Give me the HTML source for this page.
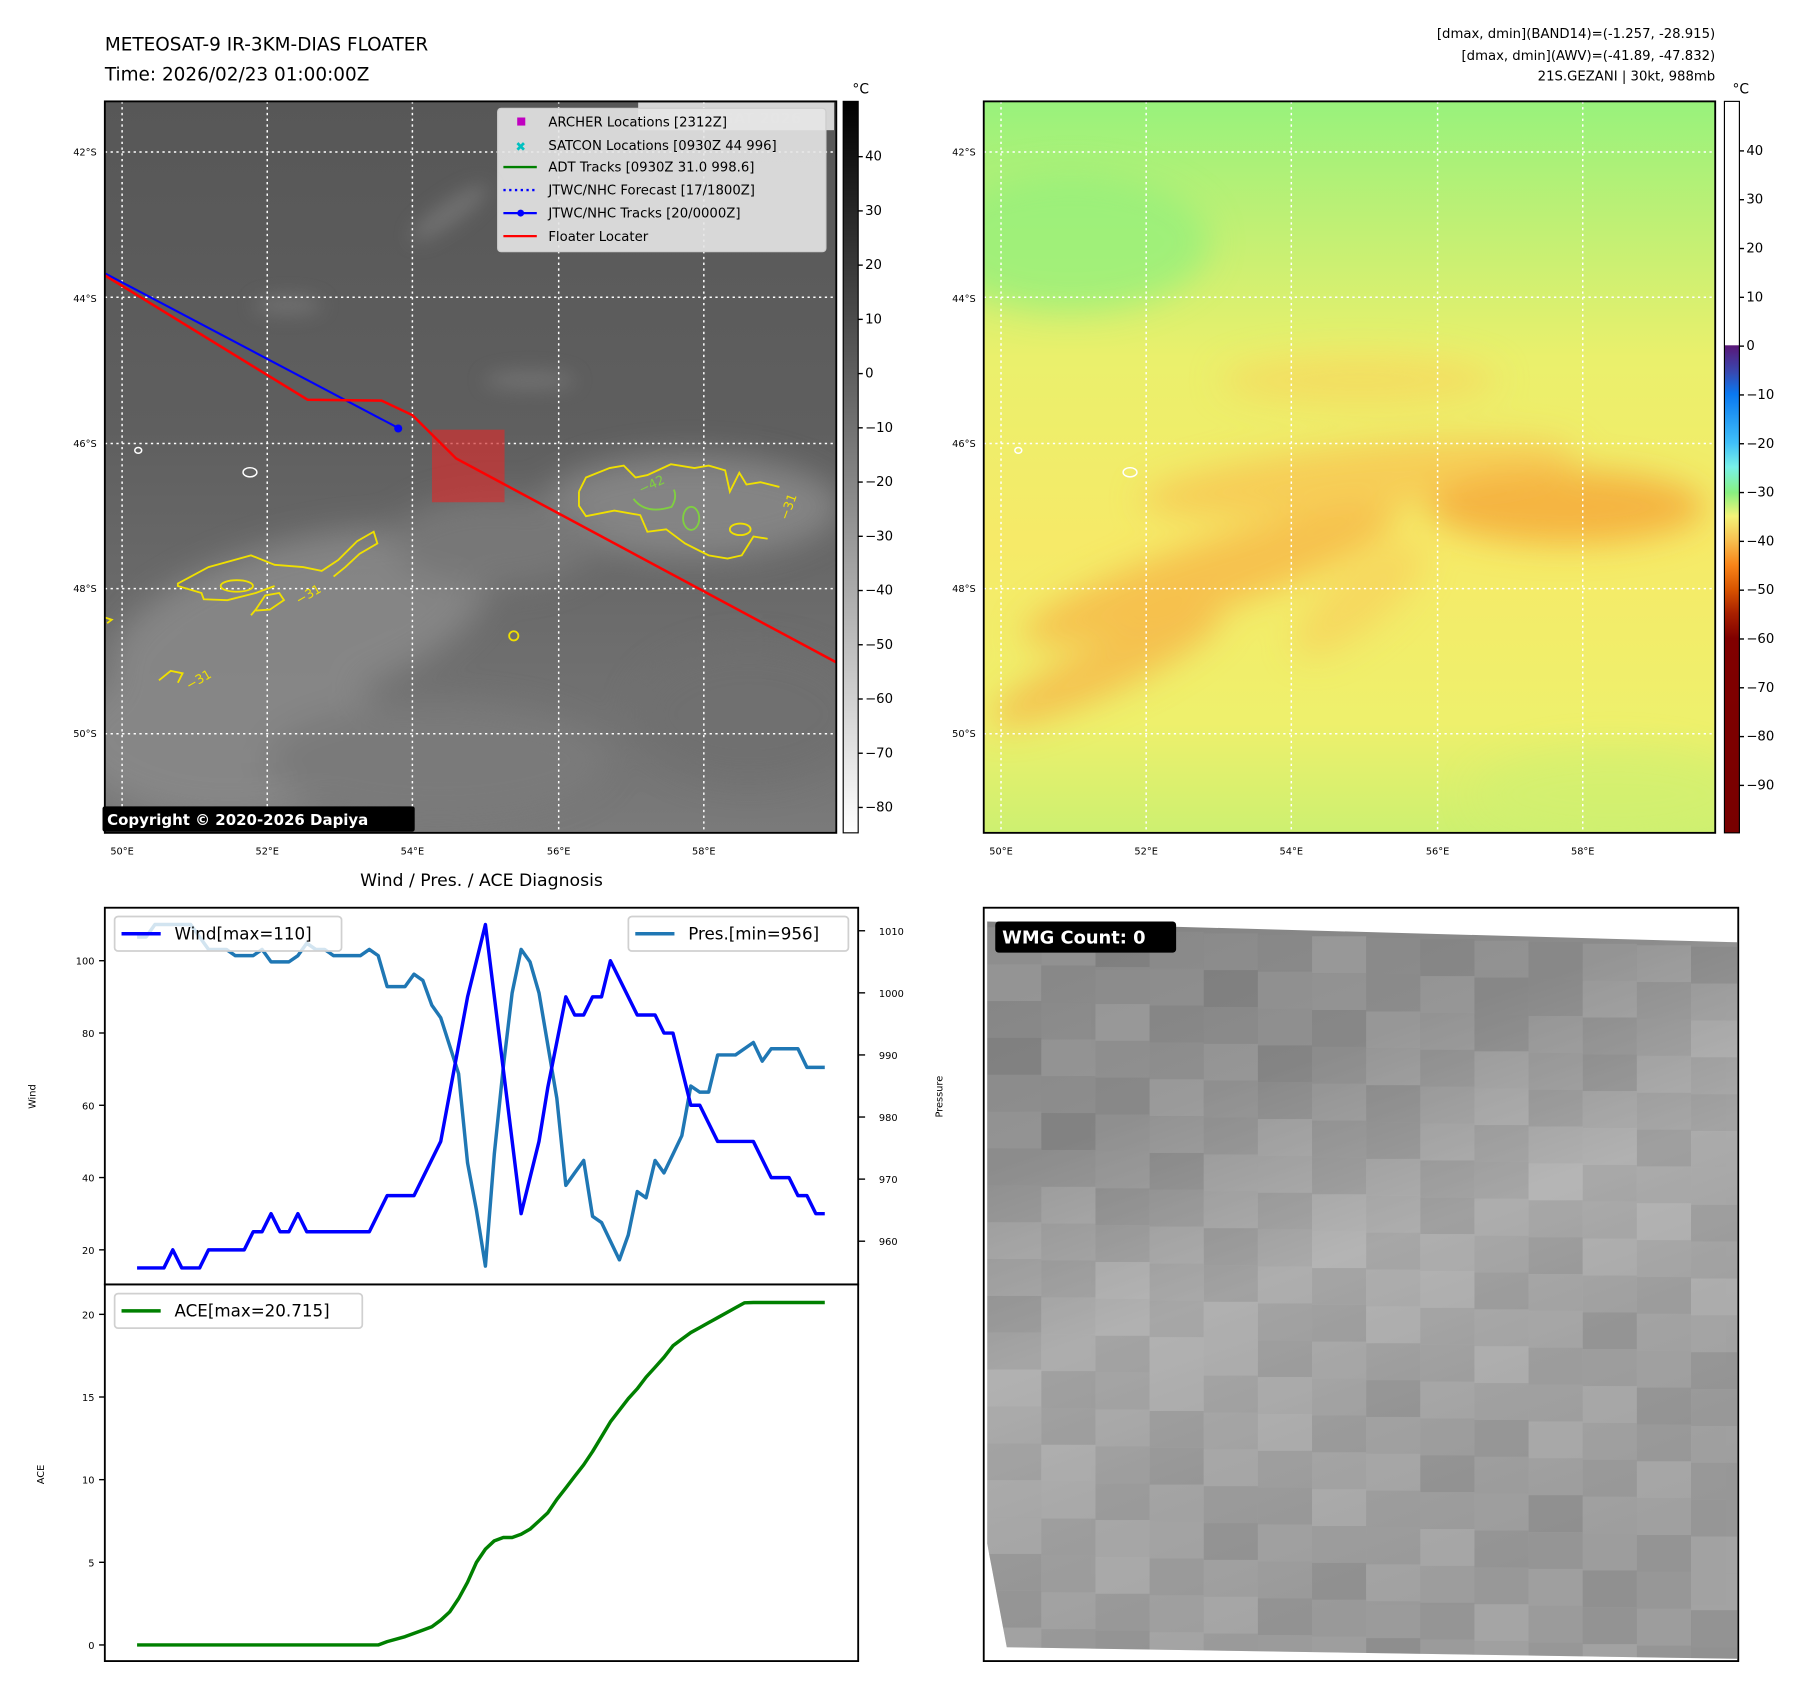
<!DOCTYPE html>
<html><head><meta charset="utf-8"><style>
html,body{margin:0;padding:0;background:#fff}
svg{display:block}
text{font-family:"DejaVu Sans","Liberation Sans",sans-serif}
</style></head><body>
<svg id="root" width="1797" height="1690" viewBox="0 0 1560 1467.1" xmlns="http://www.w3.org/2000/svg">
<defs>
<filter id="blur8" x="-50%" y="-50%" width="200%" height="200%"><feGaussianBlur stdDeviation="8"/></filter>
<filter id="blur14" x="-50%" y="-50%" width="200%" height="200%"><feGaussianBlur stdDeviation="14"/></filter>
<clipPath id="clipL"><rect x="91" y="88" width="635" height="635"/></clipPath>
<clipPath id="clipR"><rect x="854" y="88" width="635" height="635"/></clipPath>
<clipPath id="clipB"><polygon points="857,800 1508,818 1508,1440 874,1430 857,1340"/></clipPath>
<linearGradient id="gL" x1="0" y1="0" x2="0" y2="1">
<stop offset="0" stop-color="#575757"/><stop offset="0.45" stop-color="#5f5f5f"/><stop offset="1" stop-color="#7a7a7a"/></linearGradient>
<linearGradient id="gR" x1="0" y1="0" x2="0" y2="1">
<stop offset="0" stop-color="#98f27c"/><stop offset="0.18" stop-color="#c2f074"/><stop offset="0.35" stop-color="#eaf06c"/><stop offset="0.6" stop-color="#f6ea68"/><stop offset="0.85" stop-color="#eef06c"/><stop offset="1" stop-color="#cdf070"/></linearGradient>
<linearGradient id="cbL" x1="0" y1="0" x2="0" y2="1"><stop offset="0" stop-color="#000"/><stop offset="1" stop-color="#fff"/></linearGradient>
<linearGradient id="cbR" x1="0" y1="0" x2="0" y2="1">
<stop offset="0" stop-color="#fff"/><stop offset="0.333" stop-color="#fff"/>
<stop offset="0.334" stop-color="#5a1878"/><stop offset="0.37" stop-color="#3848b0"/><stop offset="0.40" stop-color="#0a78f0"/><stop offset="0.467" stop-color="#40c0f8"/><stop offset="0.50" stop-color="#78f0e8"/><stop offset="0.535" stop-color="#88f080"/><stop offset="0.567" stop-color="#f4f478"/><stop offset="0.60" stop-color="#f8c050"/><stop offset="0.634" stop-color="#f88418"/><stop offset="0.667" stop-color="#d85400"/><stop offset="0.70" stop-color="#a82000"/><stop offset="0.734" stop-color="#800000"/><stop offset="1" stop-color="#780000"/></linearGradient>
<linearGradient id="gB" x1="0" y1="0" x2="0.35" y2="1">
<stop offset="0" stop-color="#828282"/><stop offset="0.3" stop-color="#8c8c8c"/><stop offset="0.55" stop-color="#b4b4b4"/><stop offset="0.75" stop-color="#a6a6a6"/><stop offset="1" stop-color="#9c9c9c"/></linearGradient>
</defs>

<text x="91" y="44" font-size="16">METEOSAT-9 IR-3KM-DIAS FLOATER</text>
<text x="91" y="70" font-size="16">Time: 2026/02/23 01:00:00Z</text>
<g font-size="11.5" text-anchor="end">
<text x="1489" y="33">[dmax, dmin](BAND14)=(-1.257, -28.915)</text>
<text x="1489" y="52">[dmax, dmin](AWV)=(-41.89, -47.832)</text>
<text x="1489" y="70">21S.GEZANI | 30kt, 988mb</text>
</g>

<g clip-path="url(#clipL)">
<rect x="91" y="88" width="635" height="635" fill="url(#gL)"/>
<g filter="url(#blur14)" fill="#8a8a8a" opacity="0.85">
<ellipse cx="260" cy="540" rx="170" ry="70" transform="rotate(-15 260 540)"/>
<ellipse cx="200" cy="640" rx="140" ry="70"/>
<ellipse cx="600" cy="440" rx="130" ry="45"/>
<ellipse cx="430" cy="470" rx="90" ry="40" fill="#7a7a7a"/>
<ellipse cx="650" cy="620" rx="100" ry="60" fill="#707070"/>
<ellipse cx="380" cy="660" rx="150" ry="50" fill="#7c7c7c"/>
</g>
<g filter="url(#blur8)" fill="#7a7a7a" opacity="0.7">
<ellipse cx="390" cy="185" rx="40" ry="10" transform="rotate(-35 390 185)"/>
<ellipse cx="250" cy="265" rx="30" ry="8"/>
<ellipse cx="460" cy="330" rx="40" ry="8"/>
</g>
<g stroke="#fff" stroke-width="1.3" stroke-dasharray="2,3" fill="none">
<line x1="91" x2="726" y1="132" y2="132"/><line x1="91" x2="726" y1="258" y2="258"/><line x1="91" x2="726" y1="385" y2="385"/><line x1="91" x2="726" y1="511" y2="511"/><line x1="91" x2="726" y1="637" y2="637"/>
<line y1="88" y2="723" x1="106" x2="106"/><line y1="88" y2="723" x1="232" x2="232"/><line y1="88" y2="723" x1="358" x2="358"/><line y1="88" y2="723" x1="485" x2="485"/><line y1="88" y2="723" x1="611" x2="611"/>
</g>
<g fill="none" stroke="#f0e000" stroke-width="1.6">
<path d="M502.6,426.8 L508.7,414.5 529.2,406.3 541.5,404.2 551.7,414.5 562,412.4 582.4,403 602.9,406.3 615.2,404.2 629.5,408.3 633.6,426.8 641.8,410.4 648,420.6 660.2,418.6 676.6,422.7"/>
<path d="M666.4,467.7 L654.1,465.7 643.9,482.1 631.6,484.9 615.2,482.1 607,478 594.7,471.8 578.3,459.5 562,461.6 555.8,447.2 533.3,443.2 508.7,448.1 502.6,439.1 502.6,426.8"/>
<ellipse cx="642.6" cy="459.5" rx="9" ry="5"/>
<path d="M289.6,500.5 L299.8,492.3 312.1,480.8 327.6,471.8 324.4,461.6 310,469.8 293.6,486.2 279.3,495.6 263,492.3 238.4,490.3 217.9,482.1 181,492.3 154.4,506.6 154.4,508.7 174.9,514.8 176.9,520.2 197.4,521 222,514.8 238.4,508.7"/>
<ellipse cx="205.6" cy="508.7" rx="14" ry="5"/>
<path d="M217.9,534.1 L222,529.2 230.2,516.9 242.4,514.8 246.5,521 234.3,529.2 222,530"/>
<path d="M138,590.6 L148.2,582.4 158.5,584.5 154.4,592.7"/>
<ellipse cx="446" cy="552" rx="4" ry="4"/>
<path d="M91,536 L97,538 93,541"/>
</g>
<g fill="#f0e000" font-size="11">
<text x="255" y="522" transform="rotate(-30 263 515)">−31</text>
<text x="160" y="597" transform="rotate(-30 166 590)">−31</text>
<text x="674" y="452" transform="rotate(-70 679 445)">−31</text>
</g>
<g fill="none" stroke="#80d040" stroke-width="1.6">
<path d="M550,433 Q560,447 583,440 Q588,432 585,425"/>
<ellipse cx="600" cy="450" rx="7" ry="10"/>
</g>
<text x="555" y="427" font-size="11" fill="#80d040" transform="rotate(-25 560 424)">−42</text>
<g fill="none" stroke="#fff" stroke-width="1.3">
<ellipse cx="120" cy="391" rx="3" ry="2.5"/><ellipse cx="217" cy="410" rx="6" ry="4"/>
</g>
<rect x="375" y="373" width="63" height="63" fill="#d03030" opacity="0.7"/>
<polyline points="91.7,237.6 345.7,371.5" fill="none" stroke="#0000ff" stroke-width="1.8"/>
<circle cx="345.7" cy="372" r="3.5" fill="#0000ff"/>
<polyline points="91,239 267,347 331.3,347.8 358,360.4 396,398 726,575" fill="none" stroke="#ff0000" stroke-width="2.2"/>
<rect x="554" y="89" width="170" height="24" fill="#fff" opacity="0.75"/>
<text x="560" y="107" font-size="13" font-weight="bold" fill="#dcdcdc">© EUMETSAT 2026</text>
</g>
<rect x="91" y="88" width="635" height="635" fill="none" stroke="#000" stroke-width="1.6"/>

<g>
<rect x="432" y="94" width="285" height="124.5" rx="3" fill="#e6e6e6" fill-opacity="0.9" stroke="#ccc"/>
<g font-size="11.5">
<rect x="449" y="102" width="7" height="7" fill="#c000c0"/><text x="476" y="110">ARCHER Locations [2312Z]</text>
<text x="452" y="131" font-size="11" fill="#00c0c0" text-anchor="middle" font-weight="bold">✖</text><text x="476" y="130">SATCON Locations [0930Z 44 996]</text>
<line x1="437" x2="466" y1="145" y2="145" stroke="#008000" stroke-width="2"/><text x="476" y="149">ADT Tracks [0930Z 31.0 998.6]</text>
<line x1="437" x2="466" y1="165" y2="165" stroke="#0000ff" stroke-width="2" stroke-dasharray="2,3"/><text x="476" y="169">JTWC/NHC Forecast [17/1800Z]</text>
<line x1="437" x2="466" y1="185" y2="185" stroke="#0000ff" stroke-width="2"/><circle cx="452" cy="185" r="3" fill="#0000ff"/><text x="476" y="189">JTWC/NHC Tracks [20/0000Z]</text>
<line x1="437" x2="466" y1="205" y2="205" stroke="#ff0000" stroke-width="2"/><text x="476" y="209">Floater Locater</text>
</g></g>

<g>
<rect x="89" y="700" width="271" height="22" rx="2" fill="#000"/>
<text x="93" y="716" font-size="13" font-weight="bold" fill="#fff">Copyright © 2020-2026 Dapiya</text>
</g>

<g font-size="8.5" text-anchor="end">
<text x="84" y="135">42°S</text><text x="84" y="262">44°S</text><text x="84" y="388">46°S</text><text x="84" y="514">48°S</text><text x="84" y="640">50°S</text></g>
<g font-size="8.5" text-anchor="middle">
<text x="106" y="742">50°E</text><text x="232" y="742">52°E</text><text x="358" y="742">54°E</text><text x="485" y="742">56°E</text><text x="611" y="742">58°E</text></g>

<g>
<rect x="732" y="88" width="13" height="635" fill="url(#cbL)" stroke="#000" stroke-width="1"/>
<text x="740" y="81" font-size="12">°C</text>
<g font-size="11.5" id="cbLt"></g></g>

<g clip-path="url(#clipR)">
<rect x="854" y="88" width="635" height="635" fill="url(#gR)"/>
<g filter="url(#blur14)">
<ellipse cx="930" cy="210" rx="120" ry="60" fill="#90f07c" opacity="0.7"/>
<ellipse cx="1180" cy="415" rx="190" ry="28" fill="#f8c050" opacity="0.7" transform="rotate(-6 1180 415)"/>
<ellipse cx="1360" cy="440" rx="120" ry="32" fill="#f5a838" opacity="0.8"/>
<ellipse cx="1050" cy="500" rx="170" ry="30" fill="#f6b848" opacity="0.8" transform="rotate(-18 1050 500)"/>
<ellipse cx="960" cy="580" rx="110" ry="22" fill="#f6b448" opacity="0.75" transform="rotate(-25 960 580)"/>
<ellipse cx="1180" cy="520" rx="70" ry="25" fill="#f8cc58" opacity="0.6" transform="rotate(-40 1180 520)"/>
<ellipse cx="1180" cy="330" rx="120" ry="22" fill="#f8d45c" opacity="0.6"/>
<ellipse cx="1400" cy="690" rx="120" ry="40" fill="#d0f070" opacity="0.6"/>
</g>
<g stroke="#fff" stroke-width="1.3" stroke-dasharray="2,3" fill="none">
<line x1="854" x2="1489" y1="132" y2="132"/><line x1="854" x2="1489" y1="258" y2="258"/><line x1="854" x2="1489" y1="385" y2="385"/><line x1="854" x2="1489" y1="511" y2="511"/><line x1="854" x2="1489" y1="637" y2="637"/>
<line y1="88" y2="723" x1="869" x2="869"/><line y1="88" y2="723" x1="995" x2="995"/><line y1="88" y2="723" x1="1121" x2="1121"/><line y1="88" y2="723" x1="1248" x2="1248"/><line y1="88" y2="723" x1="1374" x2="1374"/>
</g>
<g fill="none" stroke="#fff" stroke-width="1.3"><ellipse cx="884" cy="391" rx="3" ry="2.5"/><ellipse cx="981" cy="410" rx="6" ry="4"/></g>
</g>
<rect x="854" y="88" width="635" height="635" fill="none" stroke="#000" stroke-width="1.6"/>
<g font-size="8.5" text-anchor="end">
<text x="847" y="135">42°S</text><text x="847" y="262">44°S</text><text x="847" y="388">46°S</text><text x="847" y="514">48°S</text><text x="847" y="640">50°S</text></g>
<g font-size="8.5" text-anchor="middle">
<text x="869" y="742">50°E</text><text x="995" y="742">52°E</text><text x="1121" y="742">54°E</text><text x="1248" y="742">56°E</text><text x="1374" y="742">58°E</text></g>
<g>
<rect x="1497" y="88" width="13" height="635" fill="url(#cbR)" stroke="#000" stroke-width="1"/>
<text x="1504" y="81" font-size="12">°C</text>
<g font-size="11.5" id="cbRt"></g></g>

<text x="418" y="769" font-size="15" text-anchor="middle">Wind / Pres. / ACE Diagnosis</text>
<g id="chart"></g>
<rect x="91" y="788" width="654" height="327" fill="none" stroke="#000" stroke-width="1.6"/>
<rect x="91" y="1115" width="654" height="327" fill="none" stroke="#000" stroke-width="1.6"/>
<text font-size="8.5" transform="translate(31,952) rotate(-90)" text-anchor="middle">Wind</text>
<text font-size="8.5" transform="translate(818,952) rotate(-90)" text-anchor="middle">Pressure</text>
<text font-size="8.5" transform="translate(38,1280) rotate(-90)" text-anchor="middle">ACE</text>

<g>
<rect x="854" y="788" width="655" height="654" fill="#fff"/>
<polygon points="857,800 1508,818 1508,1440 874,1430 857,1340" fill="url(#gB)"/>
<g id="wmgcells" opacity="0.3" clip-path="url(#clipB)"></g>
<rect x="854" y="788" width="655" height="654" fill="none" stroke="#000" stroke-width="1.6"/>
<rect x="864" y="800" width="157" height="27" rx="3" fill="#000"/>
<text x="870" y="819" font-size="15.5" font-weight="bold" fill="#fff">WMG Count: 0</text>
</g>
</svg>
<script>
const windT = [0,3,4,5,7,8,12,13,14,15,16,17,18,19,26,28,31,34,37,39,41,43,45,46,48,49,50,51,52,53,56,58,59,60,62,63,65,69,71,73,74,75,76,77];
const windV = [15,15,20,15,15,20,20,25,25,30,25,25,30,25,25,35,35,50,90,110,70,30,50,65,90,85,85,90,90,100,85,85,80,80,60,60,50,50,40,40,35,35,30,30];
const presT = [0,1,2,6,7,8,10,11,13,14,15,17,18,19,20,21,22,25,26,27,28,30,31,32,33,34,36,37,38,39,40,41,42,43,44,45,47,48,49,50,51,52,54,55,56,57,58,59,60,61,62,63,64,65,67,69,70,71,74,75,77];
const presV = [1009,1009,1011,1011,1009,1007,1007,1006,1006,1007,1005,1005,1006,1008,1007,1007,1006,1006,1007,1006,1001,1001,1003,1002,998,996,987,972.6,965,956,974,988,1000,1007,1005,1000,983,969,971,973,964,963,957,961,968,967,973,971,974,977,985,984,984,990,990,992,989,991,991,988,988];
const aceT = [0,27,28,30,32,33,34,35,36,37,38,39,40,41,42,43,44,45,46,47,48,49,50,51,52,53,54,55,56,57,58,59,60,61,62,63,64,65,66,67,68,69,77];
const aceV = [0,0,0.2,0.5,0.9,1.1,1.5,2.0,2.8,3.8,5.0,5.8,6.3,6.5,6.5,6.7,7.0,7.5,8.0,8.8,9.5,10.2,10.9,11.7,12.6,13.5,14.2,14.9,15.5,16.2,16.8,17.4,18.1,18.5,18.9,19.2,19.5,19.8,20.1,20.4,20.7,20.715,20.715];
const windTicks = [20,40,60,80,100];
const presTicks = [960,970,980,990,1000,1010];
const aceTicks = [0,5,10,15,20];
const cbLTicks = [40,30,20,10,0,-10,-20,-30,-40,-50,-60,-70,-80];
const cbRTicks = [40,30,20,10,0,-10,-20,-30,-40,-50,-60,-70,-80,-90];

const NS='http://www.w3.org/2000/svg';
const xT = t => 119 + t*(716-119)/77;
const yW = v => 834 - (v-100)*3.1375;
const yP = p => 808 + (1010-p)*5.39;
const yA = a => 1428 - a*14.35;
const yCL = v => 136 + (40-v)*4.708;
const yCR = v => 131 + (40-v)*4.237;
const chart = document.getElementById('chart');
function mk(tag, attrs, parent){const e=document.createElementNS(NS,tag);for(const k in attrs)e.setAttribute(k,attrs[k]);(parent||chart).appendChild(e);return e;}
function line(ts,vs,yf,color,name){
  const pts=ts.map((t,i)=>xT(t).toFixed(1)+','+yf(vs[i]).toFixed(1)).join(' ');
  const p=mk('polyline',{points:pts,fill:'none',stroke:color,'stroke-width':3,'stroke-linejoin':'round'});
  
  
}
function tick(x1,x2,y,label,tx,anchor,fs,parent){
  mk('line',{x1:x1,x2:x2,y1:y,y2:y,stroke:'#000','stroke-width':1.2},parent);
  const t=mk('text',{x:tx,y:y+3.5,'font-size':fs,'text-anchor':anchor},parent);
  t.textContent=label;
  
  
}
windTicks.forEach(v=>tick(86,91,yW(v),v,82,'end',8.5));
presTicks.forEach(v=>tick(745,751,yP(v),v,763,'start',8.5));
aceTicks.forEach(v=>tick(86,91,yA(v),v,82,'end',8.5));
line(presT,presV,yP,'#1f77b4','pressure-line');
line(windT,windV,yW,'#0000ff','wind-line');
line(aceT,aceV,yA,'#008000','ace-line');
function legend(x,y,w,color,label,name){
  const g=mk('g',{});
  
  
  mk('rect',{x:x,y:y,width:w,height:30,rx:3,fill:'#fff','fill-opacity':0.8,stroke:'#d0d0d0','stroke-width':1.5},g);
  mk('line',{x1:x+6,x2:x+40,y1:y+15,y2:y+15,stroke:color,'stroke-width':3},g);
  const t=mk('text',{x:x+52,y:y+20,'font-size':14.5},g);t.textContent=label;
}
legend(99.5,795.6,197,'#0000ff','Wind[max=110]','wind-legend');
legend(545.5,795.6,191,'#1f77b4','Pres.[min=956]','pressure-legend');
legend(99.5,1123,215,'#008000','ACE[max=20.715]','ace-legend');
const gL=document.getElementById('cbLt'), gR=document.getElementById('cbRt');
cbLTicks.forEach(v=>tick(745,749,yCL(v),String(v).replace('-','−'),751,'start',11.5,gL));
cbRTicks.forEach(v=>tick(1510,1514,yCR(v),String(v).replace('-','−'),1516,'start',11.5,gR));
const wc=document.getElementById('wmgcells');
for(let r=0;r<20;r++){for(let c=0;c<14;c++){
  const x=857+c*47, y=805+r*32+c*1.3;
  const g=Math.round(150+25*Math.sin(r*1.7+c*2.3)+15*Math.cos(r*0.9-c*1.1));
  const cell=mk('rect',{x:x,y:y,width:47,height:32,fill:`rgb(${g},${g},${g})`},wc);
  
  
}}
</script>
</body></html>
